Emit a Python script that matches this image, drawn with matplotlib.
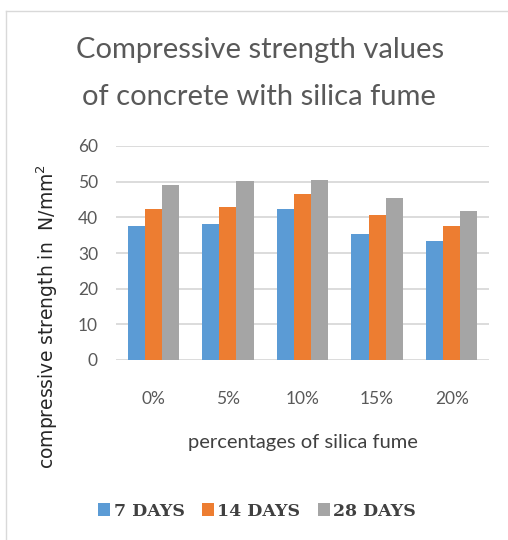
import matplotlib.pyplot as plt
import numpy as np
from matplotlib.patches import Patch
from matplotlib.lines import Line2D

# data
categories = ['0%', '5%', '10%', '15%', '20%']
days_7 = [37.5, 38.1, 42.2, 35.4, 33.3]
days_14 = [42.2, 42.9, 46.5, 40.7, 37.5]
days_28 = [49.0, 50.1, 50.6, 45.5, 41.7]
series_names = ['7 DAYS', '14 DAYS', '28 DAYS']
colors = ['#5B9BD5', '#ED7D31', '#A5A5A5']

fig = plt.figure(figsize=(5.08, 5.40), dpi=100)
ax = fig.add_axes([116 / 508, 1 - 360 / 540, 373 / 508, 214 / 540])

x = np.arange(len(categories))
w = 0.23
for i, vals in enumerate([days_7, days_14, days_28]):
    ax.bar(x + (i - 1) * w, vals, width=w, color=colors[i], label=series_names[i], zorder=3)

ax.set_xlim(-0.5, len(categories) - 0.5)
ax.set_ylim(0, 60)
ax.set_yticks(range(0, 61, 10))
ax.set_xticks(x)
ax.set_xticklabels(categories)
ax.grid(axis='y', color='#D9D9D9', lw=1.3, zorder=0)
for s in ax.spines.values():
    s.set_visible(False)
ax.tick_params(axis='both', length=0, colors='#595959', labelsize=12.5)
ax.tick_params(axis='x', pad=22)
ax.tick_params(axis='y', pad=13)
for t in ax.get_xticklabels() + ax.get_yticklabels():
    t.set_fontfamily('Lato')

ax.set_xlabel('percentages of silica fume', fontsize=14.5, color='#404040',
              family='Lato', labelpad=20)

fig.text(47 / 508, 1 - 316 / 540, 'compressive strength in  N/mm$^2$', rotation=90,
         ha='center', va='center', fontsize=13.5, color='#262626', family='DejaVu Sans')

fig.text(260 / 508, 1 - 50 / 540, 'Compressive strength values', ha='center', va='center',
         fontsize=21, color='#595959', family='Lato')
fig.text(259 / 508, 1 - 97 / 540, 'of concrete with silica fume', ha='center', va='center',
         fontsize=21, color='#595959', family='Lato')

handles = [Patch(facecolor=c) for c in colors]
leg = fig.legend(handles, series_names, loc='center', bbox_to_anchor=(257 / 508, 1 - 511 / 540),
                 ncol=3, frameon=False, handlelength=0.7, handleheight=0.7,
                 handletextpad=0.2, columnspacing=1.0,
                 prop={'family': 'DejaVu Serif', 'weight': 'bold', 'size': 12.5})
for t in leg.get_texts():
    t.set_color('#404040')

# frame lines on top and left
fig.add_artist(Line2D([6 / 508, 6 / 508], [0, 1 - 11 / 540], color='#D9D9D9', lw=1))
fig.add_artist(Line2D([6 / 508, 1], [1 - 11 / 540, 1 - 11 / 540], color='#D9D9D9', lw=1))

fig.savefig('out.png', dpi=100)
